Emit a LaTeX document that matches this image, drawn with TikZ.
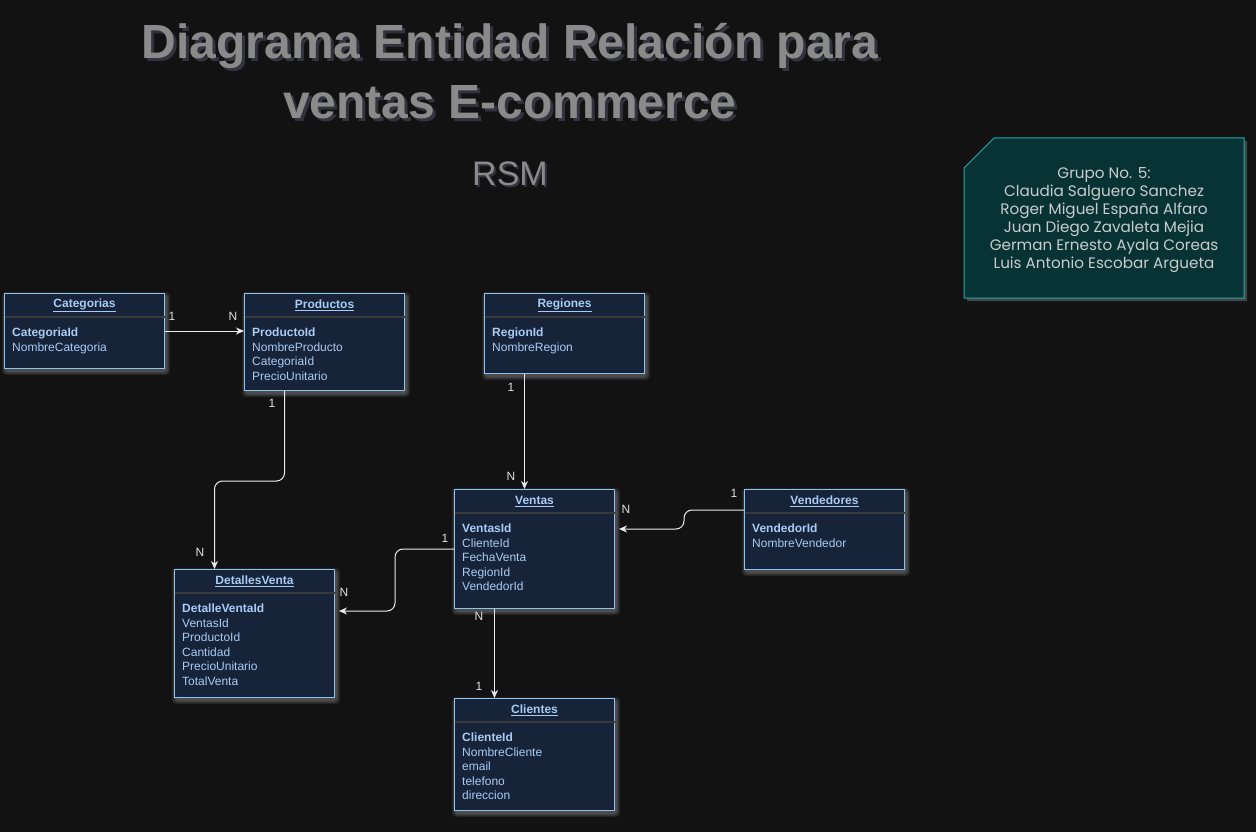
\documentclass[tikz,border=0pt]{standalone}
\usepackage{fontspec}
\setmainfont{Liberation Sans}
\newfontfamily\grpfont{Poppins}
\usetikzlibrary{arrows.meta,calc}
\definecolor{bg}{HTML}{121212}
\definecolor{efill}{HTML}{162338}
\definecolor{eborder}{HTML}{8CC4F0}
\definecolor{etext}{HTML}{A8CCF5}
\definecolor{esep}{HTML}{3A3A3A}
\definecolor{gfill}{HTML}{083335}
\definecolor{gborder}{HTML}{24AAAA}
\definecolor{gtext}{HTML}{C8CCCC}
\definecolor{ttext}{HTML}{8A8A8A}
\definecolor{tshadow}{HTML}{33333F}
\tikzset{
  entity/.style={draw=eborder, fill=efill, line width=1pt, anchor=north west,
    minimum width=160pt, inner sep=0pt},
  glow/.style={fill=white, opacity=0.07, rounded corners=4pt},
  ehead/.style={text=etext, font=\fontsize{12pt}{14pt}\selectfont\bfseries, inner sep=0pt},
  efield/.style={text=etext, font=\fontsize{12pt}{14pt}\selectfont, anchor=base west, inner sep=0pt},
  sepline/.style={draw=esep, line width=1.2pt},
  conn/.style={draw=white!92!black, line width=1pt, rounded corners=8pt, -{Stealth[length=8pt,width=7pt,inset=2.5pt]}},
  card/.style={text=white!88!black, font=\fontsize{12pt}{14pt}\selectfont, inner sep=0pt},
  ttl/.style={font=\fontsize{48pt}{56pt}\selectfont\bfseries, inner sep=0pt},
}
\newcommand\entitybox[6]{% name, x, y, height, title, fields
  \foreach \k in {1,2,3,4} {
    \fill[glow] ({#2+2-\k},{#3+3-\k}) rectangle ({#2+162+\k},{#3+#4+3+\k});
  }
  \node[entity, minimum height=#4pt] (#1) at (#2,#3) {};
  \node[ehead] (#1-t) at ([yshift=-12.5pt]#1.north) {\underline{#5}};
  \draw[sepline] ([yshift=-24pt,xshift=0.5pt]#1.north west) -- ([yshift=-24pt,xshift=-0.5pt]#1.north east);
  \foreach \f [count=\i] in {#6} {
    \node[efield] (#1-f\i) at ($(#1.north west)+(8,{43.5+14.5*(\i-1)})$) {\f};
  }
}
\begin{document}
\begin{tikzpicture}[x=1pt,y=-1pt]
\fill[bg] (0,0) rectangle (1256,832);
\useasboundingbox (0,0) rectangle (1256,832);

% titles
\node[ttl, text=tshadow] (t1s) at (513,49) {Diagrama Entidad Relación para};
\node[ttl, text=ttext] (t1) at (510,46) {Diagrama Entidad Relación para};
\node[ttl, text=tshadow] (t2s) at (513,105) {ventas E-commerce};
\node[ttl, text=ttext] (t2) at (510,102) {ventas E-commerce};
\node[font=\fontsize{34pt}{40pt}\selectfont, text=tshadow, inner sep=0pt] (rsms) at (512,176) {RSM};
\node[font=\fontsize{34pt}{40pt}\selectfont, text=ttext, inner sep=0pt] (rsm) at (510,174) {RSM};

% group box
\fill[black!60, opacity=0.6] (967,171) -- (997,141) -- (1247,141) -- (1247,301) -- (967,301) -- cycle;
\draw[gborder, fill=gfill, line width=1pt] (964,168) -- (994,138) -- (1244,138) -- (1244,298) -- (964,298) -- cycle;
\node[text=gtext, align=center, font=\grpfont\fontsize{15.2pt}{18pt}\selectfont, inner sep=0pt] (grp) at (1104,220)
 {Grupo No. 5:\\Claudia Salguero Sanchez\\Roger Miguel España Alfaro\\Juan Diego Zavaleta Mejia\\German Ernesto Ayala Coreas\\Luis Antonio Escobar Argueta};

% entities
\entitybox{cat}{4}{293}{75}{Categorias}{\textbf{CategoriaId},NombreCategoria}
\entitybox{prod}{244}{293}{97}{Productos}{\textbf{ProductoId},NombreProducto,CategoriaId,PrecioUnitario}
\entitybox{reg}{484}{293}{80}{Regiones}{\textbf{RegionId},NombreRegion}
\entitybox{ven}{454}{489}{119}{Ventas}{\textbf{VentasId},ClienteId,FechaVenta,RegionId,VendedorId}
\entitybox{vend}{744}{489}{80}{Vendedores}{\textbf{VendedorId},NombreVendedor}
\entitybox{dv}{174}{569}{128}{DetallesVenta}{\textbf{DetalleVentaId},VentasId,ProductoId,Cantidad,PrecioUnitario,TotalVenta}
\entitybox{cli}{454}{698}{112}{Clientes}{\textbf{ClienteId},NombreCliente,email,telefono,direccion}

% connectors
\draw[conn] (cat.east) -- (prod.west |- cat.east);
\draw[conn] ([xshift=-40pt]prod.south) -- ++(0,90) -| ([xshift=-40pt]dv.north);
\draw[conn] ([xshift=-40pt]reg.south) -- ([xshift=-10pt]ven.north);
\draw[conn] ([yshift=-21pt]vend.north west) -- ++(-60,0) |- ([yshift=-40pt,xshift=4pt]ven.north east);
\draw[conn] ([yshift=-60pt]ven.north west) -- ++(-59,0) |- ([yshift=-42pt,xshift=4pt]dv.north east);
\draw[conn] ([xshift=-40pt]ven.south) -- ([xshift=-40pt]cli.north);

% cardinalities
\node[card] (c1) at (172,316) {1};
\node[card] (c2) at (233,316) {N};
\node[card] (c3) at (272,403) {1};
\node[card] (c4) at (200,552) {N};
\node[card] (c5) at (511,387) {1};
\node[card] (c6) at (511,476) {N};
\node[card] (c7) at (734,493) {1};
\node[card] (c8) at (626,509) {N};
\node[card] (c9) at (445,538) {1};
\node[card] (c10) at (344,592) {N};
\node[card] (c11) at (479,616) {N};
\node[card] (c12) at (479,686) {1};
\end{tikzpicture}
\end{document}
